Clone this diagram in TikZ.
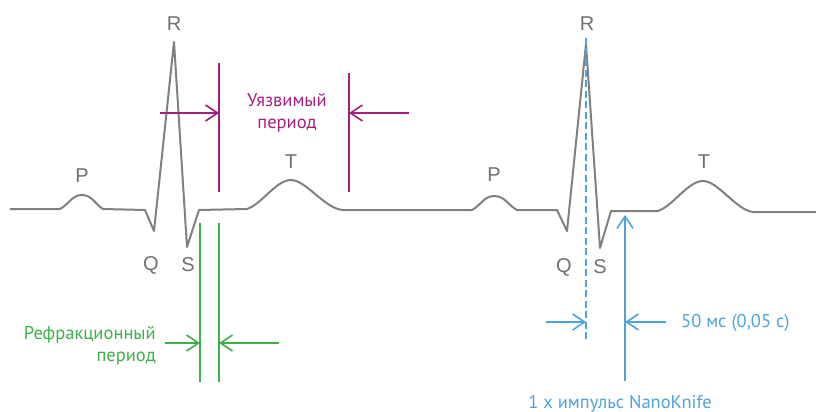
\documentclass[tikz,border=0pt]{standalone}
\usepackage{fontspec}
\setmainfont{PT Sans}
\newfontfamily\lblfont{Liberation Sans}
\usetikzlibrary{arrows.meta}
\definecolor{ecg}{RGB}{128,128,128}
\definecolor{lblgray}{RGB}{112,112,112}
\definecolor{vmag}{RGB}{163,31,128}
\definecolor{rgreen}{RGB}{63,176,73}
\definecolor{nblue}{RGB}{78,163,221}
\tikzset{
  x=1pt, y=-1pt,
  ecgline/.style={draw=ecg, line width=2pt, line join=round},
  wavelbl/.style={text=lblgray, font=\lblfont\fontsize{20}{20}\selectfont, inner sep=0pt},
  marker/.style={line width=1.6pt},
  barb/.style={-{Straight Barb[length=12pt,width=16pt]}},
  txt/.style={font=\fontsize{18.5}{20}\selectfont, inner sep=0pt},
}
\begin{document}
\begin{tikzpicture}
\useasboundingbox (0,0) rectangle (816,412);
% ECG trace
\draw[ecgline] (10,209) -- (60,209)
  .. controls (68,205) and (72,195) .. (82,195)
  .. controls (92,195) and (96,205) .. (103,209)
  -- (145,210) -- (154,231) -- (174,42) -- (187,247) -- (199,210) -- (247,209)
  .. controls (262,204) and (276,180) .. (291,180)
  .. controls (306,180) and (325,209) .. (343,210)
  -- (472,210)
  .. controls (480,206) and (484,196) .. (494,196)
  .. controls (505,196) and (509,206) .. (517,210)
  -- (557,210) -- (567,231) -- (586,44) -- (600,248) -- (611,211) -- (658,211)
  .. controls (673,206) and (688,181) .. (703,181)
  .. controls (718,181) and (736,210) .. (753,212)
  -- (816,212);
% wave labels
\node[wavelbl, anchor=center] (R1) at (174,24) {R};
\node[wavelbl, anchor=center] (P1) at (82,176) {P};
\node[wavelbl, anchor=center] (T1) at (291,162) {T};
\node[wavelbl, anchor=center] (Q1) at (151,265) {Q};
\node[wavelbl, anchor=center] (S1) at (188,265) {S};
\node[wavelbl, anchor=center] (R2) at (587,24) {R};
\node[wavelbl, anchor=center] (P2) at (494,175) {P};
\node[wavelbl, anchor=center] (T2) at (704,162) {T};
\node[wavelbl, anchor=center] (Q2) at (564,267) {Q};
\node[wavelbl, anchor=center] (S2) at (600,267) {S};
% vulnerable period (magenta)
\coordinate (m1t) at (219,63);  \coordinate (m1b) at (219,192);
\coordinate (m2t) at (349,73);  \coordinate (m2b) at (349,192);
\coordinate (m1a) at (219,113); \coordinate (m1s) at (160,113);
\coordinate (m2a) at (349,113); \coordinate (m2s) at (409,113);
\draw[vmag, marker] (m1t) -- (m1b);
\draw[vmag, marker] (m2t) -- (m2b);
\draw[vmag, marker, barb] (m1s) -- (m1a);
\draw[vmag, marker, barb] (m2s) -- (m2a);
\node[txt, text=vmag, anchor=base] (vt1) at (287,106) {Уязвимый};
\node[txt, text=vmag, anchor=base] (vt2) at (287,128) {период};
% refractory period (green)
\coordinate (g1t) at (200,223); \coordinate (g1b) at (200,382);
\coordinate (g2t) at (219,223); \coordinate (g2b) at (219,382);
\coordinate (g1a) at (200,343); \coordinate (g1s) at (165,343);
\coordinate (g2a) at (219,343); \coordinate (g2s) at (279,343);
\draw[rgreen, marker] (g1t) -- (g1b);
\draw[rgreen, marker] (g2t) -- (g2b);
\draw[rgreen, marker, barb] (g1s) -- (g1a);
\draw[rgreen, marker, barb] (g2s) -- (g2a);
\node[txt, text=rgreen, anchor=base east] (gt1) at (156,339) {Рефракционный};
\node[txt, text=rgreen, anchor=base east] (gt2) at (156,361) {период};
% NanoKnife pulse (blue)
\coordinate (bdt) at (586,38); \coordinate (bdb) at (586,341);
\coordinate (bvb) at (625,381); \coordinate (bvt) at (625,215);
\coordinate (b1a) at (586,322); \coordinate (b1s) at (546,322);
\coordinate (b2a) at (625,322); \coordinate (b2s) at (666,322);
\draw[nblue, marker, dash pattern=on 7pt off 3.5pt] (bdt) -- (bdb);
\draw[nblue, marker, barb] (bvb) -- (bvt);
\draw[nblue, marker, barb] (b1s) -- (b1a);
\draw[nblue, marker, barb] (b2s) -- (b2a);
\node[txt, text=nblue, anchor=base west] (bt1) at (681,327) {50 мс (0,05 с)};
\node[txt, text=nblue, anchor=base] (bt2) at (620,408) {1 х импульс NanoKnife};
\end{tikzpicture}
\end{document}
